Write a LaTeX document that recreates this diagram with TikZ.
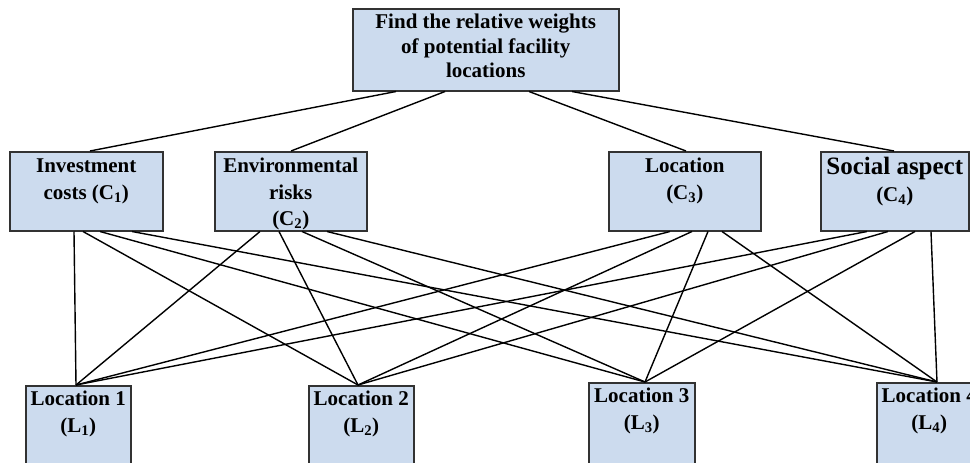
\documentclass[tikz,border=0pt]{standalone}
\usepackage{fontspec}
\setmainfont{Liberation Serif}
\definecolor{boxblue}{RGB}{204,219,238}
\definecolor{boxline}{RGB}{50,50,50}
\newcommand{\boxtext}[4]{\parbox[c][#1][t]{#2}{\centering\rule{0pt}{#3}#4}}
\begin{document}
\begin{tikzpicture}[x=1pt,y=-1pt,
  box/.style={draw=boxline, line width=1.5pt, fill=boxblue, inner sep=0pt, anchor=north west},
  toptext/.style={font=\fontsize{21}{24.5}\selectfont\bfseries},
  crit/.style={font=\fontsize{21}{26.5}\selectfont\bfseries},
  loc/.style={font=\fontsize{21}{27}\selectfont\bfseries},
  conn/.style={draw=black, line width=1.4pt}]
\useasboundingbox (0,0) rectangle (970,463);
\clip (0,0) rectangle (970,463);

% goal
\node[box,toptext] (T) at (352,8) {\boxtext{82pt}{266pt}{20pt}{Find the relative weights\\of potential facility\\locations}};

% criteria
\node[box,crit] (C1) at (9,151) {\boxtext{79pt}{153pt}{21pt}{Investment\\costs (C\textsubscript{1})}};
\node[box,crit] (C2) at (214,151) {\boxtext{79pt}{152pt}{21pt}{Environmental\\risks\\(C\textsubscript{2})}};
\node[box,crit] (C3) at (608,151) {\boxtext{79pt}{152pt}{21pt}{Location\\(C\textsubscript{3})}};
\node[box,crit] (C4) at (820,151) {\boxtext{79pt}{148pt}{23pt}{{\fontsize{25}{26.5}\selectfont Social aspect}\\(C\textsubscript{4})}};

% alternatives
\node[box,loc] (L1) at (25,385) {\boxtext{100pt}{105pt}{20pt}{Location 1\\(L\textsubscript{1})}};
\node[box,loc] (L2) at (308,385) {\boxtext{100pt}{105pt}{20pt}{Location 2\\(L\textsubscript{2})}};
\node[box,loc] (L3) at (588,382) {\boxtext{100pt}{106pt}{20pt}{Location 3\\(L\textsubscript{3})}};
\node[box,loc] (L4) at (876,382) {\boxtext{100pt}{105pt}{20pt}{Location 4\\(L\textsubscript{4})}};

% goal to criteria
\draw[conn] ([xshift=44pt]T.south west) -- ([xshift=81pt]C1.north west);
\draw[conn] ([xshift=93pt]T.south west) -- ([xshift=77pt]C2.north west);
\draw[conn] ([xshift=177pt]T.south west) -- ([xshift=78pt]C3.north west);
\draw[conn] ([xshift=220pt]T.south west) -- ([xshift=74pt]C4.north west);

% criteria to alternatives
\draw[conn] ([xshift=65pt]C1.south west) -- ([xshift=51pt]L1.north west);
\draw[conn] ([xshift=74pt]C1.south west) -- ([xshift=50pt]L2.north west);
\draw[conn] ([xshift=91pt]C1.south west) -- ([xshift=57pt]L3.north west);
\draw[conn] ([xshift=123pt]C1.south west) -- ([xshift=61pt]L4.north west);

\draw[conn] ([xshift=46pt]C2.south west) -- ([xshift=51pt]L1.north west);
\draw[conn] ([xshift=65pt]C2.south west) -- ([xshift=50pt]L2.north west);
\draw[conn] ([xshift=88pt]C2.south west) -- ([xshift=57pt]L3.north west);
\draw[conn] ([xshift=113pt]C2.south west) -- ([xshift=61pt]L4.north west);

\draw[conn] ([xshift=62pt]C3.south west) -- ([xshift=51pt]L1.north west);
\draw[conn] ([xshift=84pt]C3.south west) -- ([xshift=50pt]L2.north west);
\draw[conn] ([xshift=100pt]C3.south west) -- ([xshift=57pt]L3.north west);
\draw[conn] ([xshift=114pt]C3.south west) -- ([xshift=61pt]L4.north west);

\draw[conn] ([xshift=47pt]C4.south west) -- ([xshift=51pt]L1.north west);
\draw[conn] ([xshift=68pt]C4.south west) -- ([xshift=50pt]L2.north west);
\draw[conn] ([xshift=95pt]C4.south west) -- ([xshift=57pt]L3.north west);
\draw[conn] ([xshift=111pt]C4.south west) -- ([xshift=61pt]L4.north west);
\end{tikzpicture}
\end{document}
